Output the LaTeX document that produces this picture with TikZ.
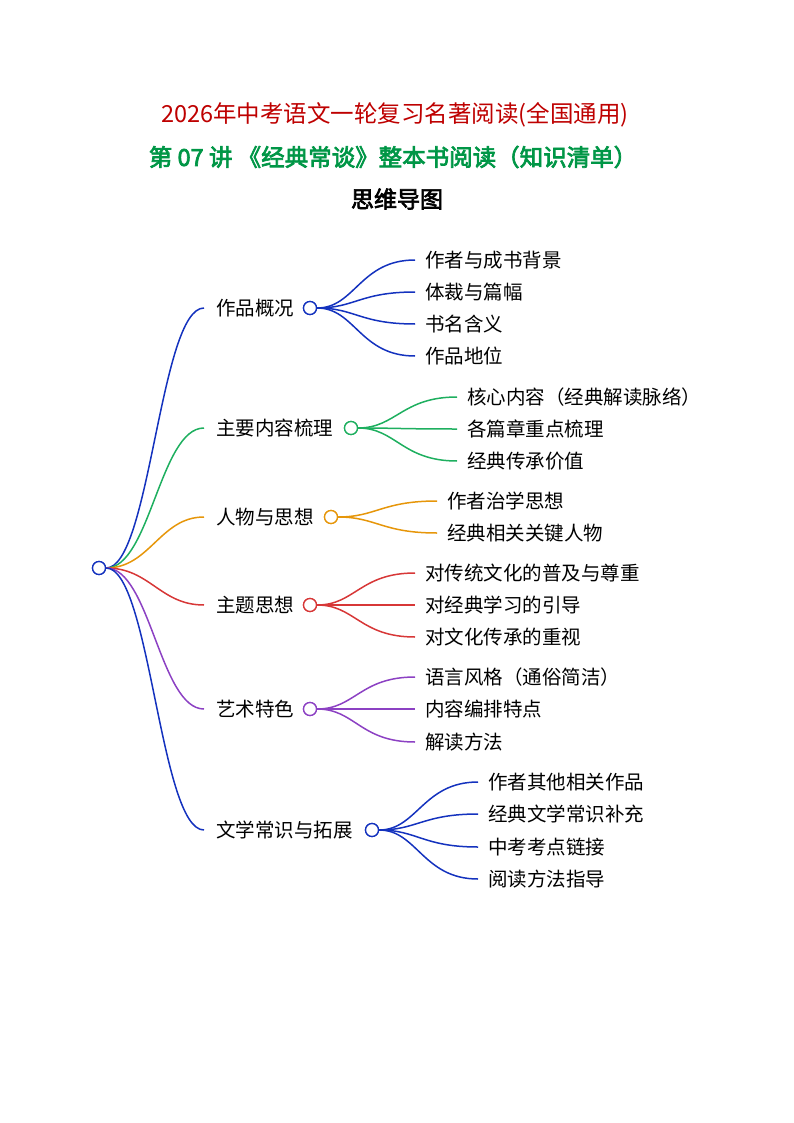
\documentclass[tikz,border=0pt]{standalone}
\usepackage{fontspec}
\setmainfont{Noto Sans CJK SC}[AutoFakeBold=3]
\usepackage{tikz}

\definecolor{cblue}{RGB}{20,50,190}
\definecolor{cgreen}{RGB}{30,175,95}
\definecolor{corange}{RGB}{230,150,10}
\definecolor{cred}{RGB}{215,55,55}
\definecolor{cpurple}{RGB}{140,65,195}
\definecolor{tred}{RGB}{190,0,0}
\definecolor{tgreen}{RGB}{0,150,70}

\tikzset{
  lab/.style={anchor=west,inner sep=0pt,font=\fontsize{19.5}{19.5}\selectfont},
  dot/.style={circle,draw,line width=1.3pt,fill=white,minimum size=13pt,inner sep=0pt},
  wire/.style={line width=1.5pt}
}

\begin{document}
\begin{tikzpicture}[x=1pt,y=-1pt]
\useasboundingbox (0,0) rectangle (794,1123);
\node (t1) at (395,115) {\fontsize{23.5}{23.5}\selectfont\color{tred}2026年中考语文一轮复习名著阅读(全国通用)};
\node (t2) at (393,157) {\fontsize{23.5}{23.5}\selectfont\bfseries\color{tgreen}第 07 讲 《经典常谈》整本书阅读（知识清单）};
\node (t3) at (397,199) {\fontsize{23}{23}\selectfont\bfseries 思维导图};

% root
\node[dot,draw=cblue] (root) at (99,568) {};

% branch: name/y/label/circle x/child x/colour/children
\foreach \bn/\by/\bl/\cx/\kx/\col/\kids in {
  a/308/作品概况/310/415/cblue/{260/作者与成书背景,292/体裁与篇幅,324/书名含义,356/作品地位},
  b/428/主要内容梳理/351/457/cgreen/{397/核心内容（经典解读脉络）,429/各篇章重点梳理,461/经典传承价值},
  c/517/人物与思想/331/437/corange/{501/作者治学思想,533/经典相关关键人物},
  d/605/主题思想/310/415/cred/{573/对传统文化的普及与尊重,605/对经典学习的引导,637/对文化传承的重视},
  e/709/艺术特色/310/415/cpurple/{677/语言风格（通俗简洁）,709/内容编排特点,742/解读方法},
  f/830/文学常识与拓展/372/478/cblue/{782/作者其他相关作品,814/经典文学常识补充,847/中考考点链接,879/阅读方法指导}}
{
  \coordinate (\bn-in) at (204,\by);
  \draw[wire,\col] (root.east) .. controls (150,568) and (160,\by) .. (\bn-in);
  \node[lab] (\bn) at (216,\by) {\bl};
  \node[dot,draw=\col] (\bn-c) at (\cx,\by) {};
  \foreach \ky/\kl [count=\i] in \kids {
    \coordinate (\bn-k\i) at (\kx,\ky);
    \draw[wire,\col] (\bn-c.east) .. controls (\cx+45,\by) and (\kx-55,\ky) .. (\bn-k\i);
    \node[lab] (\bn-t\i) at (\kx+10,\ky) {\kl};
  }
  \node[dot,draw=\col] at (\bn-c) {};
}
\node[dot,draw=cblue] at (root) {};
\end{tikzpicture}
\end{document}
